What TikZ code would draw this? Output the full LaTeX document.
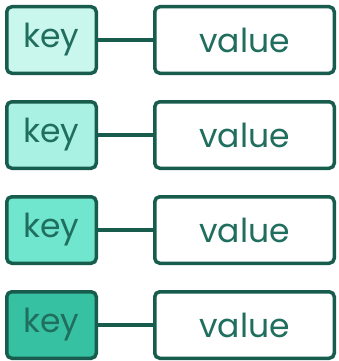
\documentclass[tikz,border=0pt]{standalone}
\usepackage{fontspec}
\setmainfont{Poppins}
\usetikzlibrary{positioning}
\definecolor{kvline}{HTML}{175C4D}
\definecolor{kvtext}{HTML}{1F6E5E}
\definecolor{keyfillA}{HTML}{C9F7EE}
\definecolor{keyfillB}{HTML}{A9F2E3}
\definecolor{keyfillC}{HTML}{6FE6CD}
\definecolor{keyfillD}{HTML}{37C1A3}
\tikzset{
  kvbox/.style={draw=kvline, line width=3.5pt, rounded corners=5pt, minimum height=66.5pt, text=kvtext, font=\fontsize{33}{37}\selectfont},
  keybox/.style={kvbox, minimum width=89.5pt},
  valbox/.style={kvbox, fill=white, minimum width=179.5pt},
  link/.style={draw=kvline, line width=3.5pt}
}
\begin{document}
\begin{tikzpicture}[x=1pt,y=-1pt]
\useasboundingbox (0,0) rectangle (339,361);
\foreach \i/\c in {1/keyfillA,2/keyfillB,3/keyfillC,4/keyfillD} {
  \node[keybox, fill=\c] (key\i) at (51.5,{40+95*(\i-1)}) {key};
  \node[valbox, right=55pt of key\i] (val\i) {value};
  \draw[link] (key\i) -- (val\i);
}
\end{tikzpicture}
\end{document}
